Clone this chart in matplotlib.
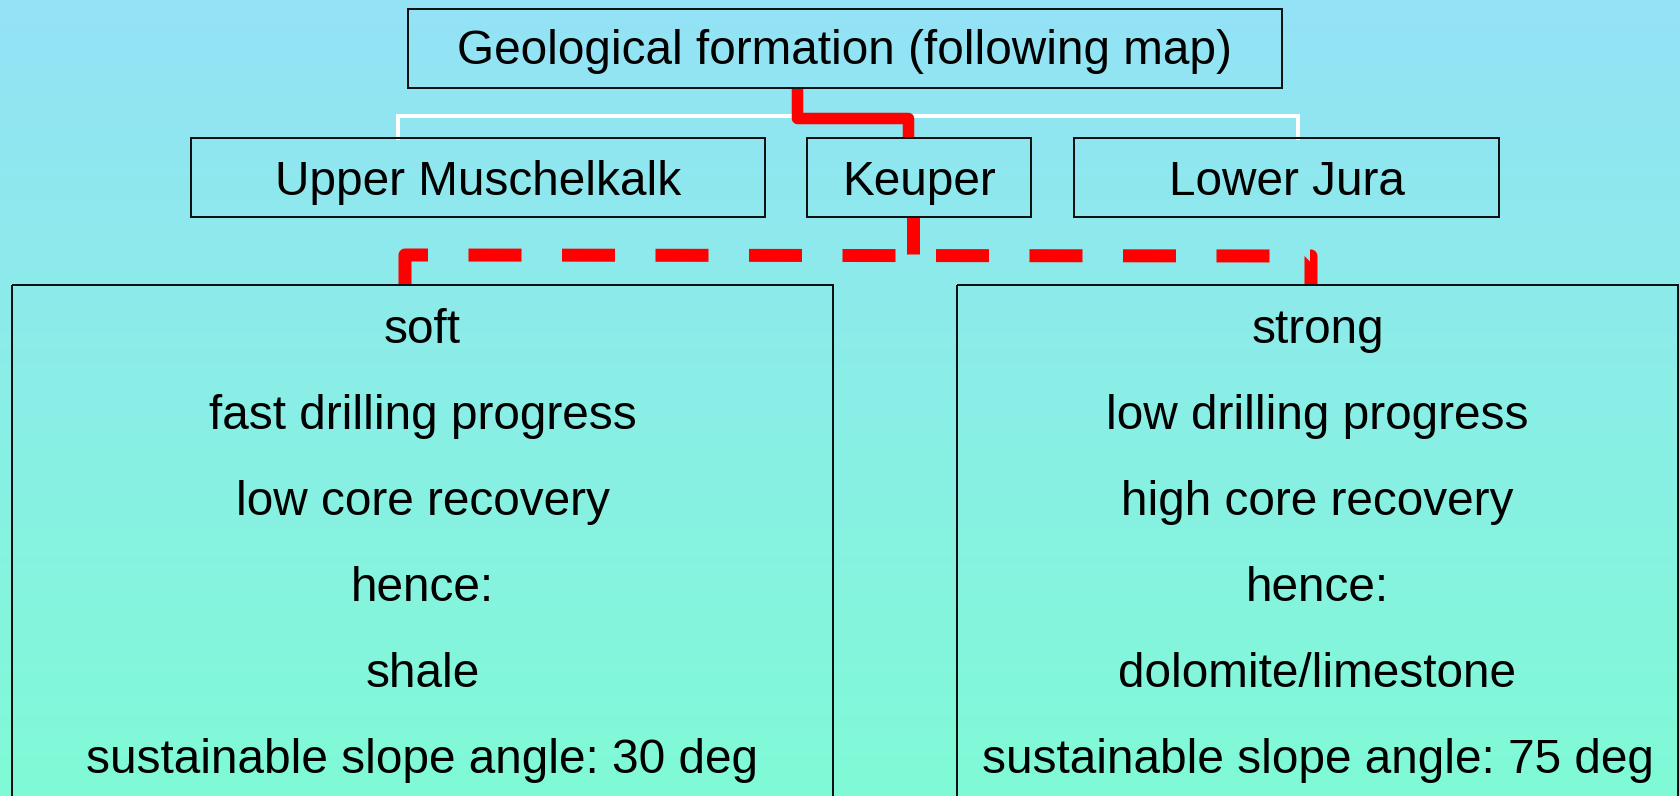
import numpy as np
import matplotlib
matplotlib.use("Agg")
import matplotlib.pyplot as plt
from matplotlib.patches import Rectangle

# texts of the diagram
top_label = "Geological formation (following map)"
formations = ["Upper Muschelkalk", "Keuper", "Lower Jura"]
soft_lines = ["soft", "fast drilling progress", "low core recovery",
              "hence:", "shale", "sustainable slope angle: 30 deg"]
strong_lines = ["strong", "low drilling progress", "high core recovery",
                "hence:", "dolomite/limestone", "sustainable slope angle: 75 deg"]

# layout in pixels (x0, x1, y0, y1)
top_box = (408, 1282, 9, 88)
formation_boxes = [(191, 765, 138, 217), (807, 1031, 138, 217),
                   (1074, 1499, 138, 217)]
result_boxes = [(12, 833, 285, 810), (957, 1678, 285, 810)]
line_baselines = [343, 429, 515, 601, 687, 773]

W, H = 1681, 796
PT = 72 / 100.0  # px -> pt

plt.rcParams['font.family'] = ['Liberation Sans', 'DejaVu Sans']
plt.rcParams['lines.scale_dashes'] = False

fig = plt.figure(figsize=(W / 100, H / 100), dpi=100)
ax = fig.add_axes([0, 0, 1, 1])
ax.set_xlim(0, W)
ax.set_ylim(H, 0)
ax.axis('off')

# background gradient light blue -> mint
top_c = np.array([148, 226, 246]) / 255
bot_c = np.array([128, 250, 214]) / 255
t = np.linspace(0, 1, 256)[:, None, None]
grad = top_c * (1 - t) + bot_c * t
grad = np.repeat(grad, 2, axis=1)
ax.imshow(grad, extent=[0, W, H, 0], aspect='auto', zorder=0)


def box(b, lw=2):
    x0, x1, y0, y1 = b
    ax.add_patch(Rectangle((x0, y0), x1 - x0, y1 - y0, fill=False,
                           edgecolor='#111111', lw=lw * PT, zorder=3))


fs = 34.4
box(top_box)
ax.text((top_box[0] + top_box[1]) / 2, 64.5, top_label, ha='center',
        va='baseline', fontsize=fs, zorder=4)

for b, name in zip(formation_boxes, formations):
    box(b)
    ax.text((b[0] + b[1]) / 2, 195, name, ha='center', va='baseline',
            fontsize=fs, zorder=4)

for b, lines in zip(result_boxes, [soft_lines, strong_lines]):
    box(b)
    for yb, s in zip(line_baselines, lines):
        ax.text((b[0] + b[1]) / 2, yb, s, ha='center', va='baseline',
                fontsize=fs, zorder=4)

# white connector
ax.plot([398, 398, 1298, 1298], [138, 116, 116, 138], color='white',
        lw=4 * PT, solid_joinstyle='miter', zorder=2)

# red solid path from top box to Keuper
ax.plot([797, 797, 908.5, 908.5], [88, 117.5, 117.5, 138], color='#ff0000',
        lw=11.5 * PT, solid_joinstyle='round', solid_capstyle='butt', zorder=2)

# red path from Keuper to the two result boxes
ax.plot([913, 913], [217, 254], color='#ff0000', lw=13 * PT,
        solid_capstyle='butt', zorder=2)
ax.plot([405, 405, 1311, 1311], [285, 255, 256, 285], color='#ff0000',
        lw=13 * PT, linestyle=(0, (53 * PT, 40.5 * PT)),
        dash_joinstyle='round', dash_capstyle='butt', zorder=2)

fig.savefig('out.png', dpi=100)
